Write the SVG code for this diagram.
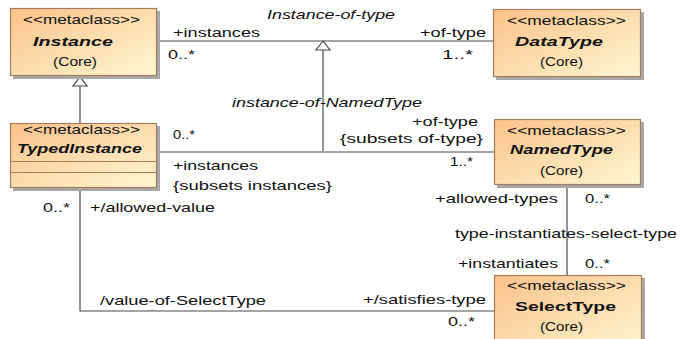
<svg xmlns="http://www.w3.org/2000/svg" width="683" height="339" viewBox="0 0 683 339">
<defs>
<linearGradient id="fillG" x1="0" y1="0" x2="1" y2="1">
<stop offset="0" stop-color="#fbc28a"/>
<stop offset="1" stop-color="#fff7d2"/>
</linearGradient>
<style>
text{font-family:"Liberation Sans",Arial,sans-serif;font-size:13px;fill:#111}
.it{font-style:italic}
.bi{font-style:italic;font-weight:bold}
.b{font-weight:bold}
.box{fill:url(#fillG);stroke:#a57d5c;stroke-width:1.2}
.sh{fill:#a8a8a8}
.ln{fill:none;stroke:#4a4a4a;stroke-width:1.2}
.tri{fill:#fff;stroke:#4a4a4a;stroke-width:1.2}
</style>
</defs>
<rect width="683" height="339" fill="#fff"/>
<g id="connectors">
<path class="ln" d="M157 41 H493"/>
<path class="ln" d="M323 151 V50"/>
<path class="tri" d="M323 41 L316 50 L330 50 Z"/>
<path class="ln" d="M80 123 V86"/>
<path class="tri" d="M80 77 L73 86 L87 86 Z"/>
<path class="ln" d="M157 152 H494"/>
<path class="ln" d="M80 188 V311 H494"/>
<path class="ln" d="M567 185 V275"/>
<text class="it" x="267" y="19" textLength="128" lengthAdjust="spacingAndGlyphs">Instance-of-type</text>
<text x="173" y="37" textLength="87" lengthAdjust="spacingAndGlyphs">+instances</text>
<text x="168" y="59" textLength="27" lengthAdjust="spacingAndGlyphs">0..*</text>
<text x="420" y="37" textLength="66" lengthAdjust="spacingAndGlyphs">+of-type</text>
<text x="442" y="59" textLength="31" lengthAdjust="spacingAndGlyphs">1..*</text>
<text class="it" x="232" y="107" textLength="190" lengthAdjust="spacingAndGlyphs">instance-of-NamedType</text>
<text x="412" y="126" textLength="66" lengthAdjust="spacingAndGlyphs">+of-type</text>
<text x="340" y="143" textLength="143" lengthAdjust="spacingAndGlyphs">{subsets of-type}</text>
<text x="450" y="166" textLength="23" lengthAdjust="spacingAndGlyphs">1..*</text>
<text x="173" y="139" textLength="22" lengthAdjust="spacingAndGlyphs">0..*</text>
<text x="173" y="170" textLength="85" lengthAdjust="spacingAndGlyphs">+instances</text>
<text x="173" y="190" textLength="159" lengthAdjust="spacingAndGlyphs">{subsets instances}</text>
<text x="43" y="212" textLength="27" lengthAdjust="spacingAndGlyphs">0..*</text>
<text x="90" y="212" textLength="125" lengthAdjust="spacingAndGlyphs">+/allowed-value</text>
<text x="435" y="203" textLength="123" lengthAdjust="spacingAndGlyphs">+allowed-types</text>
<text x="585" y="203" textLength="25" lengthAdjust="spacingAndGlyphs">0..*</text>
<text x="455" y="238" textLength="222" lengthAdjust="spacingAndGlyphs">type-instantiates-select-type</text>
<text x="458" y="268" textLength="100" lengthAdjust="spacingAndGlyphs">+instantiates</text>
<text x="585" y="268" textLength="25" lengthAdjust="spacingAndGlyphs">0..*</text>
<text x="363" y="304" textLength="123" lengthAdjust="spacingAndGlyphs">+/satisfies-type</text>
<text x="448" y="326" textLength="27" lengthAdjust="spacingAndGlyphs">0..*</text>
<text x="100" y="305" textLength="166" lengthAdjust="spacingAndGlyphs">/value-of-SelectType</text>
</g>
<g id="Instance">
<rect class="sh" x="13" y="11" width="147" height="68"/>
<rect class="box" x="10.5" y="8.5" width="146" height="67"/>
<text x="23" y="24" textLength="117" lengthAdjust="spacingAndGlyphs">&lt;&lt;metaclass&gt;&gt;</text>
<text class="bi" x="33" y="46" textLength="80" lengthAdjust="spacingAndGlyphs">Instance</text>
<text x="53" y="66" textLength="44" lengthAdjust="spacingAndGlyphs">(Core)</text>
</g>
<g id="DataType">
<rect class="sh" x="496" y="12" width="148" height="68"/>
<rect class="box" x="493.5" y="9.5" width="147" height="67"/>
<text x="507" y="25" textLength="119" lengthAdjust="spacingAndGlyphs">&lt;&lt;metaclass&gt;&gt;</text>
<text class="bi" x="515" y="46" textLength="88" lengthAdjust="spacingAndGlyphs">DataType</text>
<text x="540" y="66" textLength="43" lengthAdjust="spacingAndGlyphs">(Core)</text>
</g>
<g id="TypedInstance">
<rect class="sh" x="13" y="126" width="147" height="65"/>
<rect class="box" x="10.5" y="123.5" width="146" height="64"/>
<path class="ln" d="M10.5 161.5 H156.5 M10.5 172.5 H156.5" style="stroke:#a57d5c"/>
<text x="23" y="134" textLength="117" lengthAdjust="spacingAndGlyphs">&lt;&lt;metaclass&gt;&gt;</text>
<text class="bi" x="17" y="153" textLength="125" lengthAdjust="spacingAndGlyphs">TypedInstance</text>
</g>
<g id="NamedType">
<rect class="sh" x="497" y="122" width="147" height="66"/>
<rect class="box" x="494.5" y="119.5" width="146" height="65"/>
<text x="507" y="135" textLength="119" lengthAdjust="spacingAndGlyphs">&lt;&lt;metaclass&gt;&gt;</text>
<text class="bi" x="510" y="154" textLength="103" lengthAdjust="spacingAndGlyphs">NamedType</text>
<text x="540" y="175" textLength="43" lengthAdjust="spacingAndGlyphs">(Core)</text>
</g>
<g id="SelectType">
<rect class="sh" x="497" y="278" width="148" height="80"/>
<rect class="box" x="494.5" y="275.5" width="147" height="80"/>
<text x="507" y="290" textLength="119" lengthAdjust="spacingAndGlyphs">&lt;&lt;metaclass&gt;&gt;</text>
<text class="b" x="515" y="311" textLength="101" lengthAdjust="spacingAndGlyphs">SelectType</text>
<text x="540" y="331" textLength="43" lengthAdjust="spacingAndGlyphs">(Core)</text>
</g>
</svg>
